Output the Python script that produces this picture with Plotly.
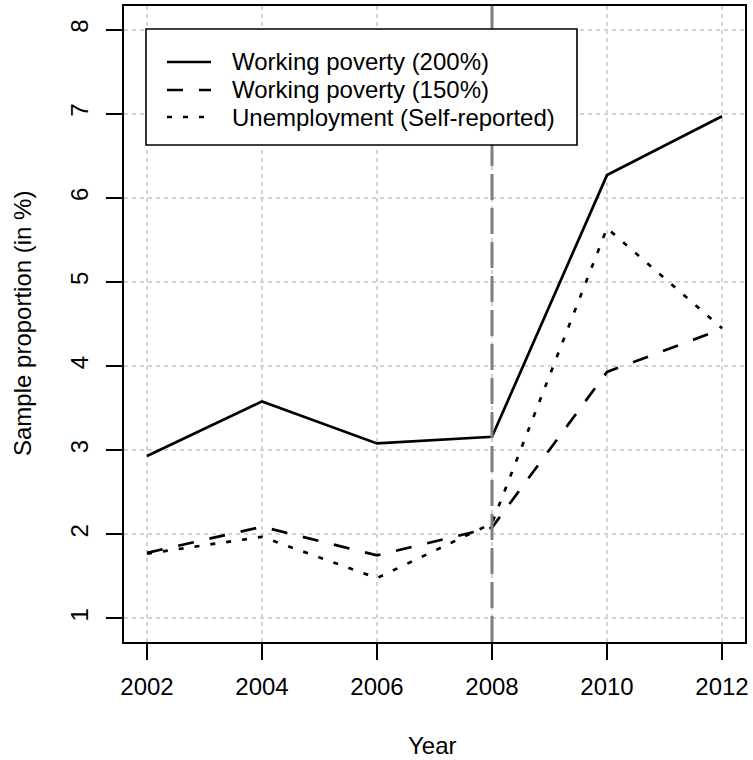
import plotly.graph_objects as go

# Survey years and sample proportions (in %)
years = [2002, 2004, 2006, 2008, 2010, 2012]
working_poverty_200 = [2.93, 3.58, 3.08, 3.16, 6.27, 6.97]
working_poverty_150 = [1.78, 2.09, 1.75, 2.08, 3.93, 4.44]
unemployment_self = [1.77, 1.97, 1.48, 2.13, 5.64, 4.45]

series_names = [
    "Working poverty (200%)",
    "Working poverty (150%)",
    "Unemployment (Self-reported)",
]
series_values = [working_poverty_200, working_poverty_150, unemployment_self]
series_dash = ["solid", "16px,16px", "5px,11px"]

x_ticks = [2002, 2004, 2006, 2008, 2010, 2012]
y_ticks = [1, 2, 3, 4, 5, 6, 7, 8]
crisis_year = 2008

FONT = "Liberation Sans, Arial, sans-serif"
W, H = 753, 760
M_L, M_R, M_T, M_B = 124, 8, 6, 118
PW = W - M_L - M_R
PH = H - M_T - M_B
LINE_W = 2.7


def px_x(px):
    """Pixel column -> paper x."""
    return (px - M_L) / PW


def px_y(py):
    """Pixel row -> paper y."""
    return (H - M_B - py) / PH


fig = go.Figure()

for name, vals, dash in zip(series_names, series_values, series_dash):
    fig.add_trace(go.Scatter(
        x=years, y=vals, mode="lines", name=name,
        line=dict(color="black", width=LINE_W, dash=dash),
        showlegend=False,
    ))

# vertical reference line at the start of the crisis
fig.add_shape(
    type="line", xref="x", yref="paper",
    x0=crisis_year, x1=crisis_year, y0=0, y1=1,
    line=dict(color="#7f7f7f", width=3, dash="26px,8px"),
    layer="above",
)

# legend box with line keys (drawn after the reference line so it covers it)
lx0, lx1, ly0, ly1 = 146, 577, 29, 145
fig.add_shape(
    type="rect", xref="paper", yref="paper",
    x0=px_x(lx0), x1=px_x(lx1), y0=px_y(ly1), y1=px_y(ly0),
    fillcolor="white", line=dict(color="black", width=1.6),
    layer="above",
)
key_rows = [62, 90, 117]
for name, dash, row in zip(series_names, series_dash, key_rows):
    fig.add_shape(
        type="line", xref="paper", yref="paper",
        x0=px_x(167), x1=px_x(211), y0=px_y(row), y1=px_y(row),
        line=dict(color="black", width=LINE_W, dash=dash),
        layer="above",
    )
    fig.add_annotation(
        xref="paper", yref="paper", x=px_x(230), y=px_y(row),
        xanchor="left", yanchor="middle", showarrow=False,
        text=name, font=dict(family=FONT, size=24, color="black"),
    )

# axis titles
fig.add_annotation(
    xref="paper", yref="paper", x=px_x(432), y=px_y(745),
    xanchor="center", yanchor="middle", showarrow=False,
    text="Year", font=dict(family=FONT, size=24, color="black"),
)
fig.add_annotation(
    xref="paper", yref="paper", x=px_x(22), y=0.5,
    xanchor="center", yanchor="middle", showarrow=False, textangle=-90,
    text="Sample proportion (in %)", font=dict(family=FONT, size=24, color="black"),
)

axis_common = dict(
    showline=True, linecolor="black", linewidth=2, mirror=True,
    ticks="outside", ticklen=16, tickwidth=2, tickcolor="black",
    showgrid=True, gridcolor="#d3d3d3", gridwidth=1.5, griddash="4px,4px",
    zeroline=False,
    tickfont=dict(family=FONT, size=24, color="black"),
)

fig.update_xaxes(
    range=[2001.6, 2012.4], tickvals=x_ticks,
    ticktext=[str(t) for t in x_ticks], ticklabelstandoff=6,
    **axis_common,
)
fig.update_yaxes(
    range=[0.72, 8.28], tickvals=y_ticks,
    ticktext=[str(t) for t in y_ticks], tickangle=-90, ticklabelstandoff=8,
    **axis_common,
)

fig.update_layout(
    width=W, height=H,
    margin=dict(l=M_L, r=M_R, t=M_T, b=M_B, autoexpand=False),
    paper_bgcolor="white", plot_bgcolor="white",
    font=dict(family=FONT, size=24, color="black"),
)

fig.write_html("out.html")
